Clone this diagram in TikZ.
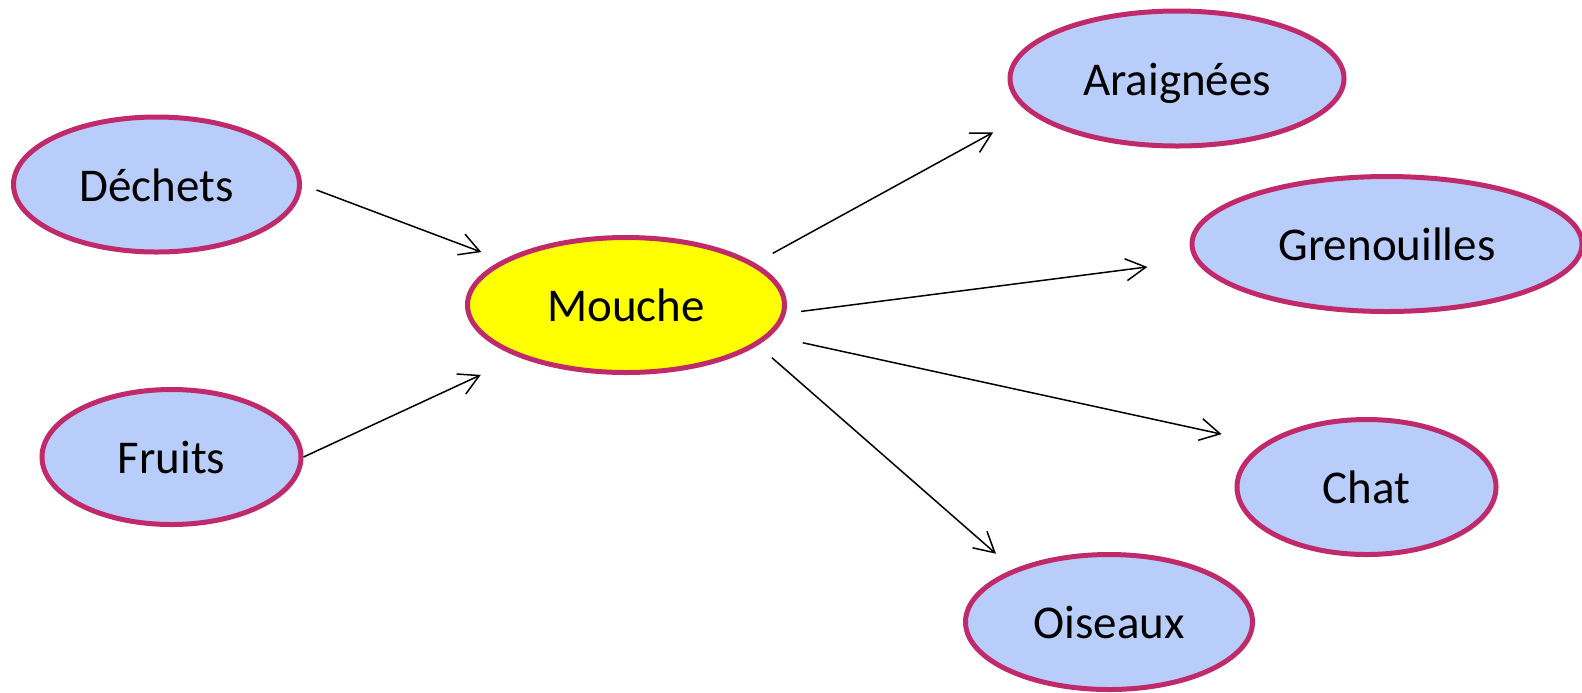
\documentclass[tikz,border=0pt]{standalone}
\usepackage{fontspec}
\setmainfont{Carlito}
\usetikzlibrary{shapes.geometric,arrows.meta}
\definecolor{bordure}{HTML}{C0296A}
\definecolor{bleu}{HTML}{B8CDFA}
\definecolor{jaune}{HTML}{FFFF00}

\begin{document}
\begin{tikzpicture}[x=0.5pt,y=-0.5pt,
            every node/.style={draw=bordure,line width=2.5pt,ellipse,inner sep=0pt,
                minimum height=67.5pt,fill=bleu,font=\fontsize{23.5}{28}\selectfont,
                text height=18.8pt,text depth=2pt},
            fleche/.style={-{Straight Barb[length=10pt,width=11pt]},line width=0.75pt},
            ]
            \useasboundingbox (0,0) rectangle (1582,692);

            % sources
            \node[minimum width=143pt] (dechets) at (156.5,184.5) {Déchets};
            \node[minimum width=129.5pt] (fruits) at (171.5,457) {Fruits};

            \node[minimum width=158.5pt, fill=jaune] (mouche) at (626,305) {Mouche};

            % predateurs
            \node[minimum width=167pt] (araignees) at (1177,78.5) {Araignées};
            \node[minimum width=195pt] (grenouilles) at (1387,244) {Grenouilles};
            \node[minimum width=129.5pt] (chat) at (1366.5,487) {Chat};
            \node[minimum width=143.5pt] (oiseaux) at (1109,622) {Oiseaux};

            \draw[fleche, shorten <=7.75pt, shorten >=11.35pt] (dechets.-0.9) -- (mouche.160);
            \draw[fleche, shorten >=21pt] (fruits.0.4) -- (mouche.206.3);
            \draw[fleche, shorten <=10.15pt, shorten >=20.5pt] (mouche.18.8) -- (araignees.193.8);
            \draw[fleche, shorten <=7.65pt, shorten >=24.15pt] (mouche.-3.6) -- (grenouilles.185);
            \draw[fleche, shorten <=16.45pt, shorten >=21.45pt] (mouche.-12.8) -- (chat.157);
            \draw[fleche, shorten <=9.5pt, shorten >=11.65pt] (mouche.-17.5) -- (oiseaux.151.25);
        \end{tikzpicture}
\end{document}
